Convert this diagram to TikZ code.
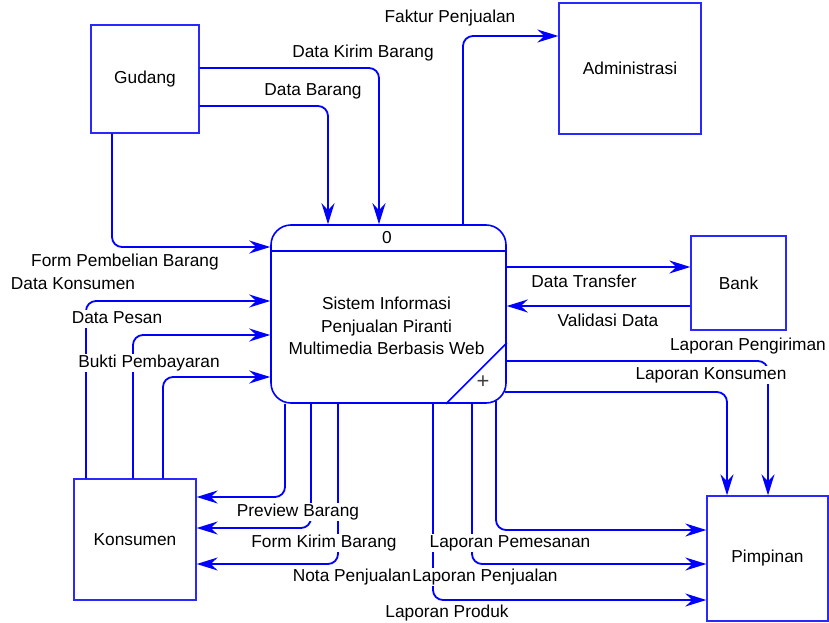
\documentclass[tikz,border=0pt]{standalone}
\usepackage{fontspec}
\setmainfont{Liberation Sans}
\usetikzlibrary{arrows.meta,calc}
\definecolor{flowblue}{RGB}{0,0,255}
\definecolor{boxblue}{RGB}{40,40,255}
\tikzset{
  dfdfont/.style={font=\fontsize{17.3}{22.5}\selectfont},
  entity/.style={draw=boxblue, line width=1.3pt, inner sep=0pt, dfdfont},
  procbox/.style={draw=flowblue, line width=1.6pt, rounded corners=20pt, inner sep=0pt},
  flow/.style={draw=flowblue, line width=1.8pt, rounded corners=10pt,
    -{Stealth[length=21pt,width=13pt,inset=7pt]}},
  flowlabel/.style={dfdfont, fill=white, inner sep=1pt, text height=12.5pt, text depth=3.5pt}
}
\begin{document}
\begin{tikzpicture}[x=1pt,y=-1pt]
\useasboundingbox (0,0) rectangle (829,623);

% external entities
\node[entity, minimum width=108pt, minimum height=108pt] (gudang) at (145,79) {Gudang};
\node[entity, minimum width=142pt, minimum height=131pt] (admin) at (630,68.5) {Administrasi};
\node[entity, minimum width=95pt, minimum height=94pt] (bank) at (738.5,283) {Bank};
\node[entity, minimum width=122pt, minimum height=121pt] (kons) at (135,539.5) {Konsumen};
\node[entity, minimum width=121pt, minimum height=125pt] (pimp) at (767.5,558.5) {Pimpinan};

% process 0
\node[procbox, minimum width=235pt, minimum height=178pt] (proc) at (388.5,314) {};
\draw[draw=flowblue, line width=1.6pt] (proc.west |- 0,251) -- (proc.east |- 0,251);
\draw[draw=flowblue, line width=1.6pt] (proc.east |- 0,343) -- (446,0 |- proc.south);
\node[dfdfont] (pnum) at (387,238) {0};
\node[dfdfont, align=center] (pname) at (386.5,326)
  {Sistem Informasi\\Penjualan Piranti\\Multimedia Berbasis Web};
\node[font=\fontsize{22}{22}\selectfont, text=black!75] (pplus) at (483,382) {+};

% data flows
\draw[flow] (gudang.east |- 0,68) -| (379,0 |- proc.north);
\draw[flow] (gudang.east |- 0,106) -| (328,0 |- proc.north);
\draw[flow] (112,0 |- gudang.south) |- (proc.west |- 0,247);
\draw[flow] (463,0 |- proc.north) |- (admin.west |- 0,36);
\draw[flow] (proc.east |- 0,267) -- (bank.west |- 0,267);
\draw[flow] (bank.west |- 0,306) -- (proc.east |- 0,306);
\draw[flow] (proc.east |- 0,361) -| (768,0 |- pimp.north);
\draw[flow] ($(proc.east |- 0,392)+(-2,0)$) -| (727,0 |- pimp.north);
\draw[flow] ($(496,0 |- proc.south)+(0,-3)$) |- (pimp.west |- 0,530);
\draw[flow] (472,0 |- proc.south) |- (pimp.west |- 0,564);
\draw[flow] (433,0 |- proc.south) |- (pimp.west |- 0,600);
\draw[flow] (285,0 |- proc.south) |- (kons.east |- 0,497);
\draw[flow] (311,0 |- proc.south) |- (kons.east |- 0,528);
\draw[flow] (338,0 |- proc.south) |- (kons.east |- 0,564);
\draw[flow] (86,0 |- kons.north) |- (proc.west |- 0,301);
\draw[flow] (133,0 |- kons.north) |- (proc.west |- 0,335);
\draw[flow] (163,0 |- kons.north) |- (proc.west |- 0,377);

% flow labels
\node[flowlabel] (lfaktur) at (450,18) {Faktur Penjualan};
\node[flowlabel] (ldkb) at (363,53) {Data Kirim Barang};
\node[flowlabel] (ldb) at (313,91) {Data Barang};
\node[flowlabel] (lfpb) at (125,262) {Form Pembelian Barang};
\node[flowlabel] (ldk) at (73,285) {Data Konsumen};
\node[flowlabel] (ldp) at (117,319) {Data Pesan};
\node[flowlabel] (lbp) at (149,363) {Bukti Pembayaran};
\node[flowlabel] (ldt) at (584,283) {Data Transfer};
\node[flowlabel] (lvd) at (608,322) {Validasi Data};
\node[flowlabel] (llpg) at (748,346) {Laporan Pengiriman};
\node[flowlabel] (llk) at (711,375) {Laporan Konsumen};
\node[flowlabel] (lpb) at (298,512) {Preview Barang};
\node[flowlabel] (lfkb) at (324,543) {Form Kirim Barang};
\node[flowlabel] (lnp) at (352,577) {Nota Penjualan};
\node[flowlabel] (llpm) at (510,543) {Laporan Pemesanan};
\node[flowlabel] (llpj) at (485,577) {Laporan Penjualan};
\node[flowlabel] (llpr) at (447,613) {Laporan Produk};
\end{tikzpicture}
\end{document}
